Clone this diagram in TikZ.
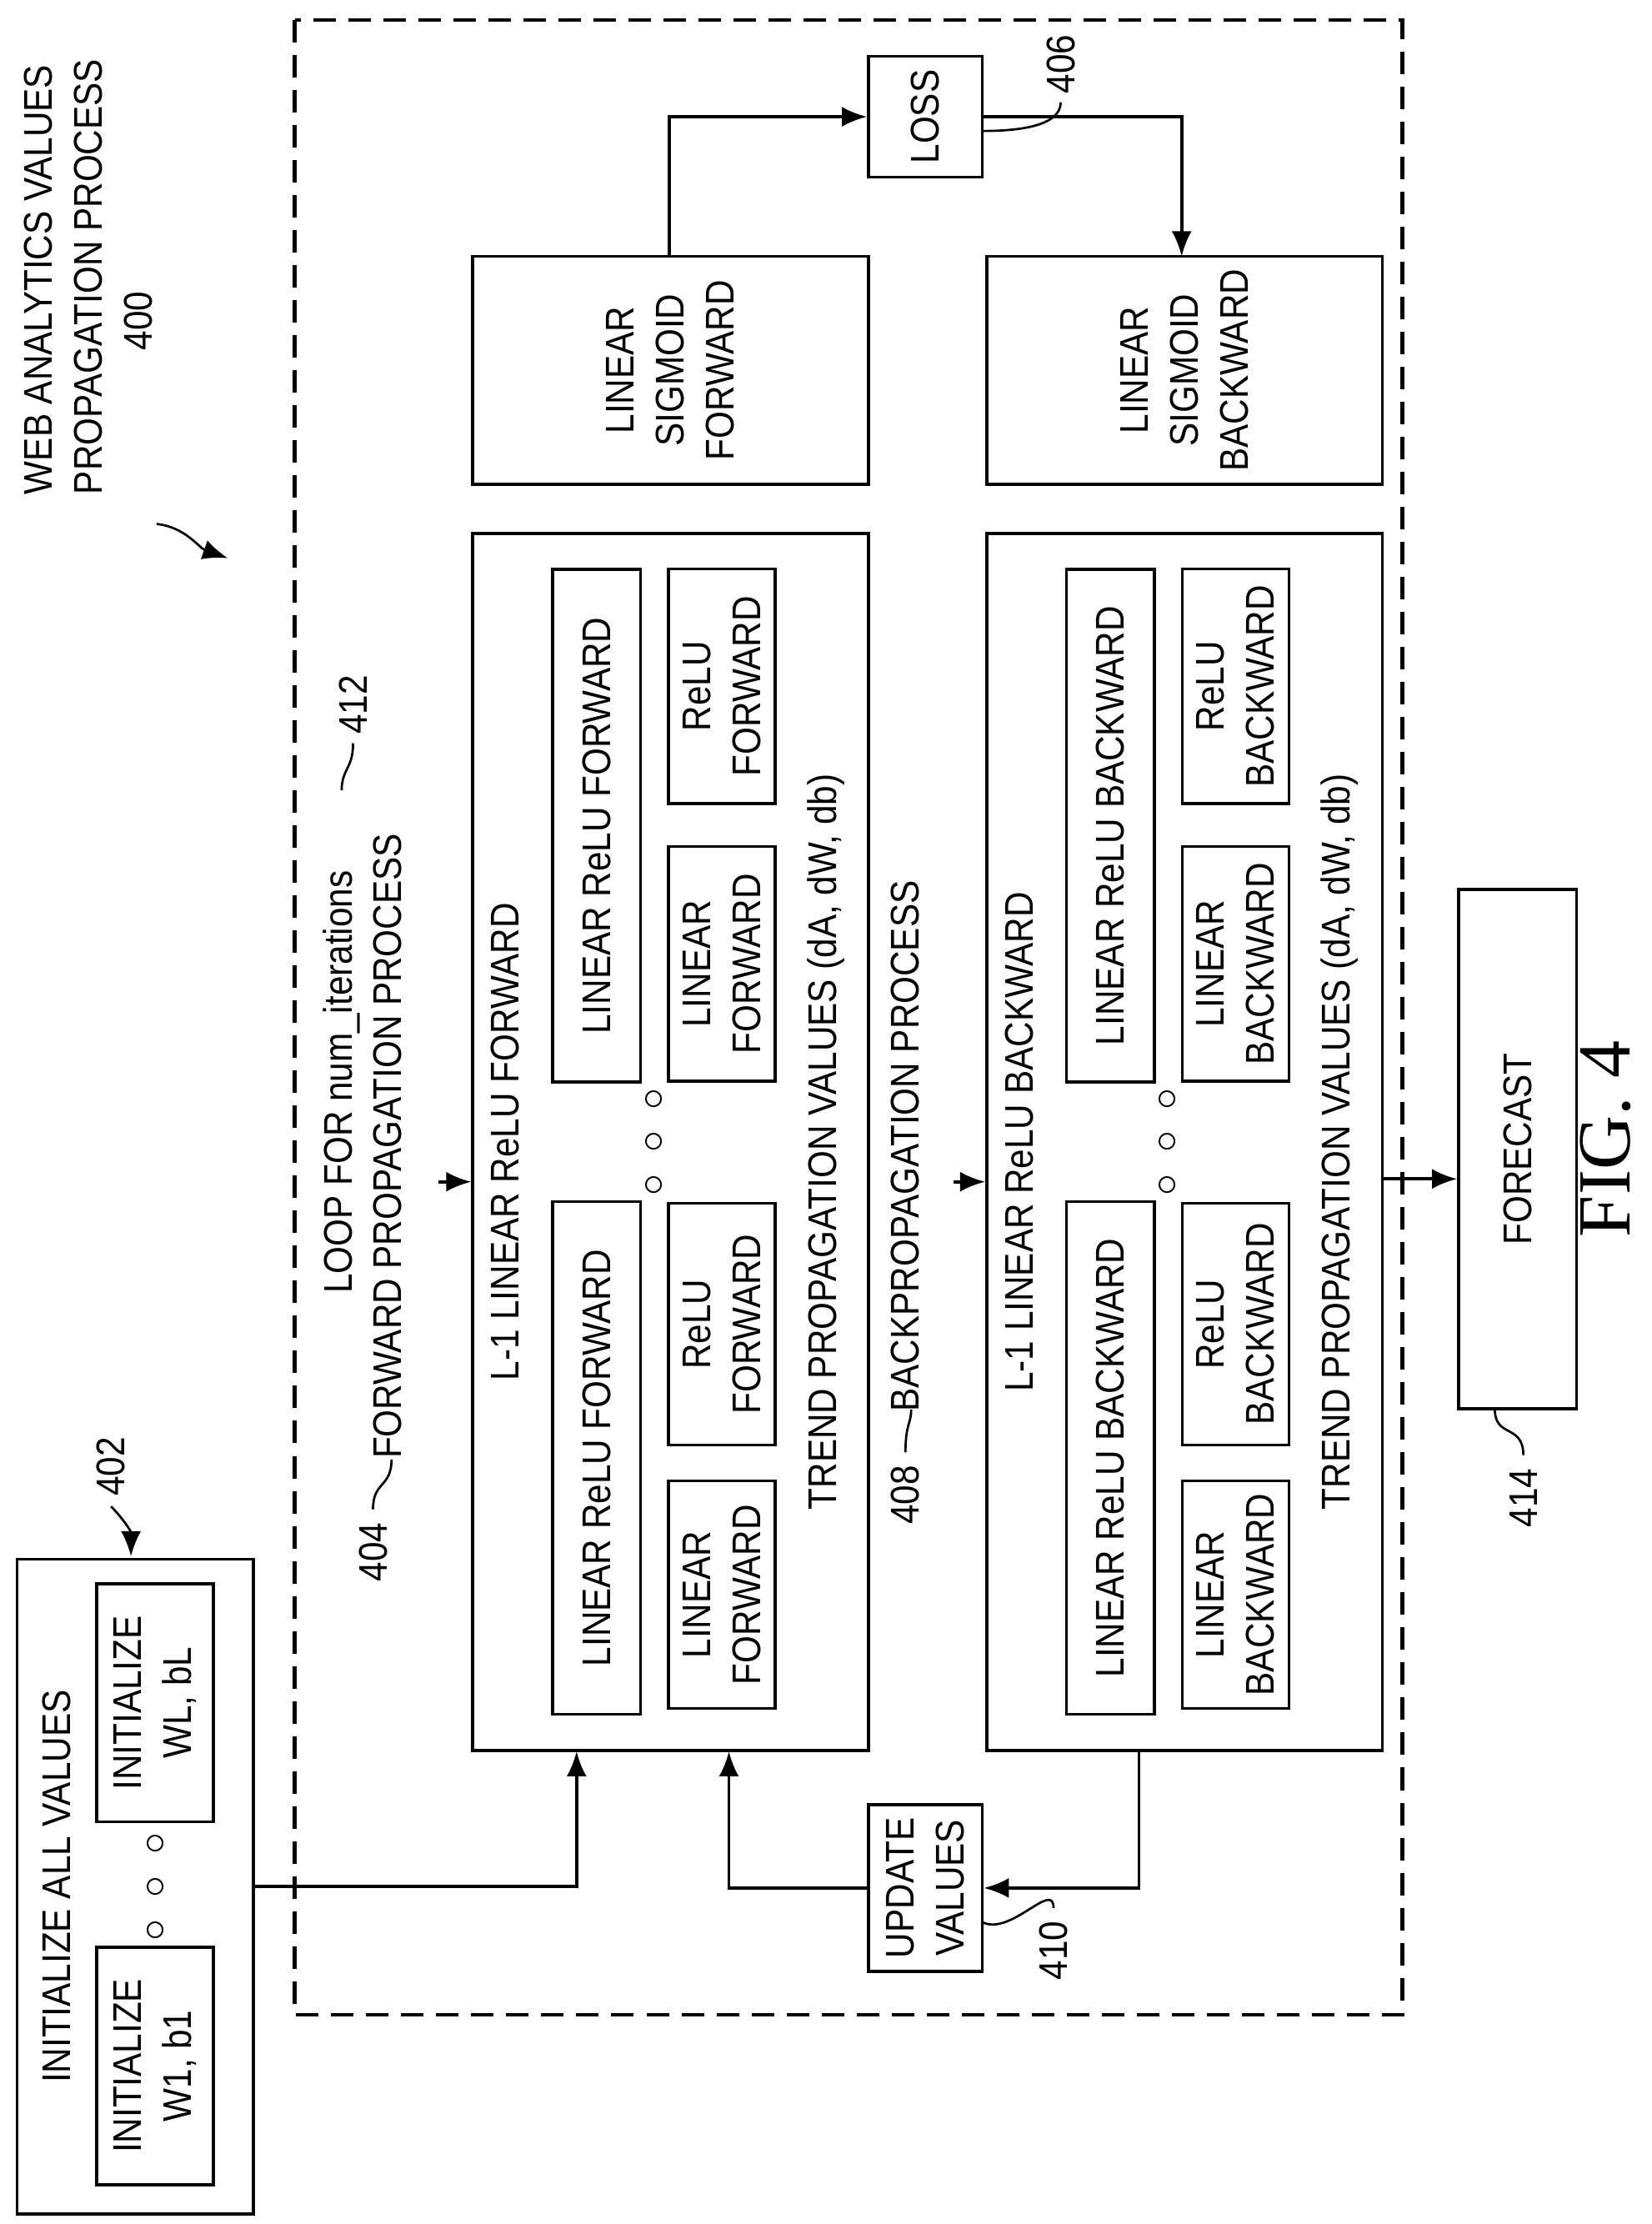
\documentclass[tikz,border=0pt]{standalone}
\usepackage{fontspec}
\setmainfont{Liberation Sans}[FakeStretch=0.88]
\newfontfamily\figfont{Liberation Serif}
\usetikzlibrary{arrows.meta}
\begin{document}
\begin{tikzpicture}[x=0.02cm,y=-0.02cm,line width=1.2pt,
    every node/.style={font=\fontsize{16}{20}\selectfont},
    box/.style={draw,rotate=90,align=center,inner sep=0pt},
    lbl/.style={rotate=90,align=center,inner sep=1pt},
    arr/.style={-{Latex[length=10pt,width=8pt]}},
    sq/.style={line width=0.9pt}]
    \useasboundingbox (0,0) rectangle (1160,1562);
    % dashed frame
    \draw[dash pattern=on 9pt off 5pt,line width=1.5pt] (207,14) rectangle (985,1415);
    % initialization 402
    \node[box,minimum width=9.2cm,minimum height=3.32cm] (init) at (95,1325) {};
    \node[lbl] (inittxt) at (40,1325) {INITIALIZE ALL VALUES};
    \node[box,minimum width=3.34cm,minimum height=1.64cm] (iw1) at (109,1451) {INITIALIZE\\W1, b1};
    \node[box,minimum width=3.34cm,minimum height=1.64cm] (iwl) at (109,1196) {INITIALIZE\\WL, bL};
    \node[lbl] (idots) at (110,1325) {$\circ\;\circ\;\circ$};
    % forward propagation 404
    \node[box,minimum width=17.1cm,minimum height=5.56cm] (fwd) at (471,802) {};
    \node[lbl] (fwdtitle) at (355,802) {L-1 LINEAR ReLU FORWARD};
    \node[box,minimum width=7.2cm,minimum height=1.24cm] (lrf1) at (419,1024) {LINEAR ReLU FORWARD};
    \node[box,minimum width=7.2cm,minimum height=1.24cm] (lrf2) at (419,580) {LINEAR ReLU FORWARD};
    \node[box,minimum width=3.2cm,minimum height=1.5cm] (lf1) at (507,1120) {LINEAR\\FORWARD};
    \node[box,minimum width=3.4cm,minimum height=1.5cm] (rf1) at (507,930) {ReLU\\FORWARD};
    \node[box,minimum width=3.3cm,minimum height=1.5cm] (lf2) at (507,677) {LINEAR\\FORWARD};
    \node[box,minimum width=3.3cm,minimum height=1.5cm] (rf2) at (507,482) {ReLU\\FORWARD};
    \node[lbl] (fdots) at (460,802) {$\circ\;\circ\;\circ$};
    \node[lbl] (ftrend) at (580,802) {TREND PROPAGATION VALUES (dA, dW, db)};
    % backpropagation 408
    \node[box,minimum width=17.1cm,minimum height=5.56cm] (bwd) at (832,802) {};
    \node[lbl] (bwdtitle) at (716,802) {L-1 LINEAR ReLU BACKWARD};
    \node[box,minimum width=7.2cm,minimum height=1.24cm] (lrb1) at (780,1024) {LINEAR ReLU BACKWARD};
    \node[box,minimum width=7.2cm,minimum height=1.24cm] (lrb2) at (780,580) {LINEAR ReLU BACKWARD};
    \node[box,minimum width=3.2cm,minimum height=1.5cm] (lb1) at (868,1120) {LINEAR\\BACKWARD};
    \node[box,minimum width=3.4cm,minimum height=1.5cm] (rb1) at (868,930) {ReLU\\BACKWARD};
    \node[box,minimum width=3.3cm,minimum height=1.5cm] (lb2) at (868,677) {LINEAR\\BACKWARD};
    \node[box,minimum width=3.3cm,minimum height=1.5cm] (rb2) at (868,482) {ReLU\\BACKWARD};
    \node[lbl] (bdots) at (821,802) {$\circ\;\circ\;\circ$};
    \node[lbl] (btrend) at (941,802) {TREND PROPAGATION VALUES (dA, dW, db)};
    % sigmoid, loss, update, forecast
    \node[box,minimum width=3.2cm,minimum height=5.56cm] (sigf) at (471,260) {LINEAR\\SIGMOID\\FORWARD};
    \node[box,minimum width=3.2cm,minimum height=5.56cm] (sigb) at (832,260) {LINEAR\\SIGMOID\\BACKWARD};
    \node[box,minimum width=1.7cm,minimum height=1.6cm] (loss) at (650,82) {LOSS};
    \node[box,minimum width=2.34cm,minimum height=1.6cm] (upd) at (650,1326) {UPDATE\\VALUES};
    \node[box,minimum width=7.3cm,minimum height=1.66cm] (fc) at (1066,807) {FORECAST};
    \node[lbl,font=\fontsize{30}{34}\selectfont\figfont] (fig) at (1128,800) {FIG. 4};
    % process labels
    \node[lbl,align=left,anchor=north west] (title) at (14,350) {WEB ANALYTICS VALUES\\PROPAGATION PROCESS\\\hspace*{3.6em}400};
    \node[lbl] (loop) at (240,760) {LOOP FOR num\_iterations};
    \node[lbl] (fwdlbl) at (272,805) {FORWARD PROPAGATION PROCESS};
    \node[lbl] (bwdlbl) at (636,805) {BACKPROPAGATION PROCESS};
    \node[lbl] (r402) at (78,1030) {402};
    \node[lbl] (r404) at (262,1090) {404};
    \node[lbl] (r406) at (745,45) {406};
    \node[lbl] (r408) at (636,1050) {408};
    \node[lbl] (r410) at (740,1370) {410};
    \node[lbl] (r412) at (248,495) {412};
    \node[lbl] (r414) at (1070,1052) {414};
    % reference leaders
    \draw[sq,arr] (110,368) .. controls (130,370) and (140,385) .. (160,392);
    \draw[sq,arr] (78,1058) .. controls (85,1065) and (92,1075) .. (92,1093);
    \draw[sq] (262,1060) .. controls (262,1040) and (275,1045) .. (275,1025);
    \draw[sq] (248,522) .. controls (248,540) and (240,540) .. (240,555);
    \draw[sq] (745,72) .. controls (745,90) and (710,92) .. (690,92);
    \draw[sq] (636,1020) .. controls (636,1000) and (640,1000) .. (640,990);
    \draw[sq] (740,1340) .. controls (740,1320) and (710,1360) .. (690,1350);
    \draw[sq] (1070,1022) .. controls (1070,1000) and (1050,1010) .. (1050,990);
    % connectors
    \coordinate (fin) at (405,1230);
    \coordinate (uin) at (512,1230);
    \coordinate (bout) at (800,1230);
    \coordinate (sfout) at (470,180);
    \coordinate (sbin) at (830,180);
    \coordinate (bfc) at (970,828);
    \draw[arr] (init.south) -| (fin);
    \draw[arr] (bout) |- (upd.south);
    \draw[arr] (upd.north) -| (uin);
    \draw[arr] (sfout) |- (loss.north);
    \draw[arr] (loss.south) -| (sbin);
    \draw[arr] (bfc) -- (fc.north |- bfc);
    \draw[arr] (308,830) -- (fwd.north |- 0,830);
    \draw[arr] (670,830) -- (bwd.north |- 0,830);
\end{tikzpicture}
\end{document}
